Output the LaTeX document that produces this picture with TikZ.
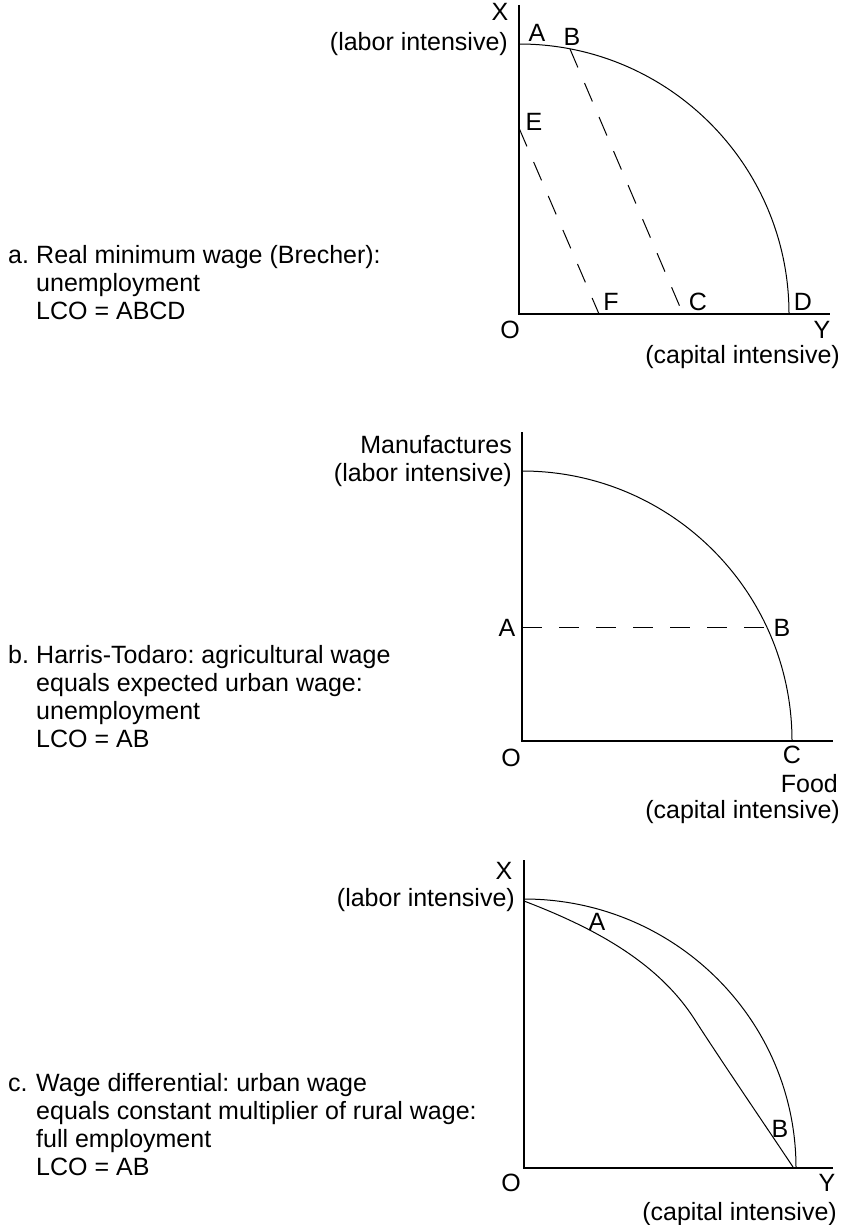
\documentclass[tikz,border=0pt]{standalone}
\usepackage{fontspec}
\setmainfont{Liberation Sans}
\frenchspacing
\begin{document}
\begin{tikzpicture}[x=1pt,y=-1pt,
  every node/.style={inner sep=0pt, font=\fontsize{25}{28}\selectfont},
  axis/.style={line width=1.6pt},
  curve/.style={line width=1pt},
  dashline/.style={line width=1pt, dash pattern=on 20pt off 17pt}]
\useasboundingbox (0,0) rectangle (844,1225);

% ---------------- Panel a ----------------
\coordinate (aO) at (519,314);
\coordinate (aTop) at (519,5);
\coordinate (aRight) at (830,314);
\coordinate (aA) at (519,44);
\coordinate (aB) at (570,49);
\coordinate (aC) at (683,314);
\coordinate (aE) at (519,128);
\coordinate (aF) at (599,314);
\draw[axis] (aTop) -- (aO) -- (aRight);
\draw[curve] (aA) arc[start angle=90,end angle=0,radius=270pt];
\draw[dashline] (aB) -- (aC);
\draw[dashline] (aE) -- (aF);
\node (aX) at (500,12) {X};
\node[anchor=east] (aLab) at (508,44) {(labor intensive)};
\node (aAl) at (537,33) {A};
\node (aBl) at (572,37) {B};
\node (aEl) at (534,122) {E};
\node (aFl) at (611,302) {F};
\node (aCl) at (698,302) {C};
\node (aDl) at (803,302) {D};
\node (aOl) at (510,330) {O};
\node (aYl) at (822,330) {Y};
\node[anchor=east] (aCap) at (840,357) {(capital intensive)};
\node[anchor=base west] (aT0) at (8,263) {a.};
\node[anchor=base west] (aT1) at (36,263) {Real minimum wage (Brecher):};
\node[anchor=base west] (aT2) at (36,291) {unemployment};
\node[anchor=base west] (aT3) at (36,319) {LCO = ABCD};

% ---------------- Panel b ----------------
\coordinate (bO) at (522,741);
\coordinate (bTop) at (522,432);
\coordinate (bRight) at (833,741);
\coordinate (bM) at (522,471);
\coordinate (bA) at (522,627);
\coordinate (bB) at (767,627);
\draw[axis] (bTop) -- (bO) -- (bRight);
\draw[curve] (bM) arc[start angle=90,end angle=0,radius=270pt];
\draw[dashline] (bA) -- (bB);
\node[anchor=east] (bMan) at (512,445) {Manufactures};
\node[anchor=east] (bLab) at (512,475) {(labor intensive)};
\node (bAl) at (507,628) {A};
\node (bBl) at (782,628) {B};
\node (bOl) at (511,758) {O};
\node (bCl) at (792,755) {C};
\node[anchor=east] (bFood) at (838,784) {Food};
\node[anchor=east] (bCap) at (840,812) {(capital intensive)};
\node[anchor=base west] (bT0) at (8,663) {b.};
\node[anchor=base west] (bT1) at (36,663) {Harris-Todaro: agricultural wage};
\node[anchor=base west] (bT2) at (36,691) {equals expected urban wage:};
\node[anchor=base west] (bT3) at (36,719) {unemployment};
\node[anchor=base west] (bT4) at (36,747) {LCO = AB};

% ---------------- Panel c ----------------
\coordinate (cO) at (524,1168);
\coordinate (cTop) at (524,860);
\coordinate (cRight) at (833,1168);
\coordinate (cM) at (524,899);
\coordinate (cS) at (524,901);
\coordinate (cK) at (695,1020);
\coordinate (cE) at (793,1167);
\draw[axis] (cTop) -- (cO) -- (cRight);
\draw[curve] (cM) arc[start angle=90,end angle=0,x radius=272pt,y radius=269pt];
\draw[curve] (cS) .. controls (600,930) and (660,965) .. (cK)
                  .. controls (720,1059) and (765,1125) .. (cE);
\node (cX) at (504,871) {X};
\node[anchor=east] (cLab) at (515,900) {(labor intensive)};
\node (cAl) at (597,922) {A};
\node (cBl) at (780,1129) {B};
\node (cOl) at (511,1183) {O};
\node (cYl) at (827,1183) {Y};
\node[anchor=east] (cCap) at (837,1214) {(capital intensive)};
\node[anchor=base west] (cT0) at (8,1091) {c.};
\node[anchor=base west] (cT1) at (36,1091) {Wage differential: urban wage};
\node[anchor=base west] (cT2) at (36,1119) {equals constant multiplier of rural wage:};
\node[anchor=base west] (cT3) at (36,1147) {full employment};
\node[anchor=base west] (cT4) at (36,1175) {LCO = AB};
\end{tikzpicture}
\end{document}
